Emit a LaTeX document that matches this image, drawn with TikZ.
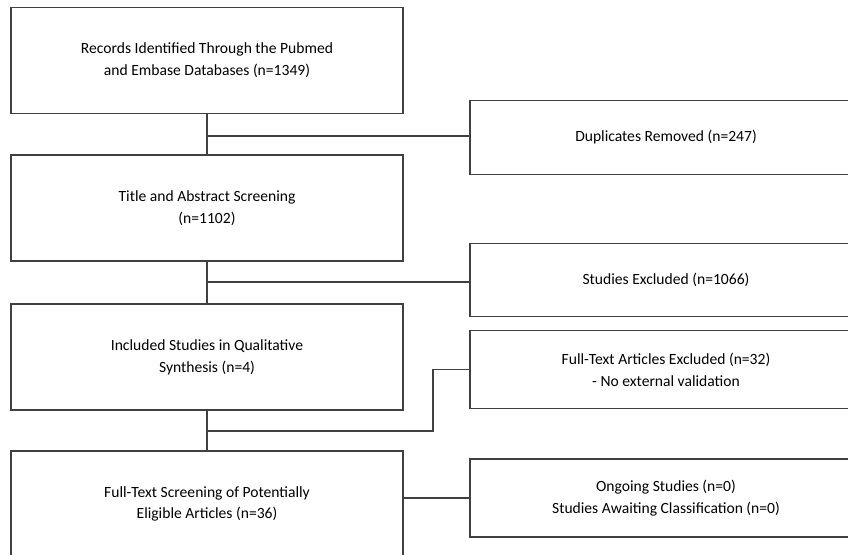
\documentclass[tikz,border=0pt]{standalone}
\usepackage{fontspec}
\setmainfont{Carlito}
\definecolor{linegray}{HTML}{404040}
\tikzset{
    stage/.style={draw=linegray, line width=0.8pt, rectangle, align=center,
        minimum width=294pt, font=\fontsize{11.7}{16.3}\selectfont},
    flow/.style={draw=linegray, line width=0.8pt}
}
\begin{document}
\begin{tikzpicture}[x=0.75pt,y=-0.75pt]
    \useasboundingbox (0,0) rectangle (848,555);

    \node[stage, minimum height=79pt] (0) at (207,60.5) {Records Identified Through the Pubmed\\and Embase Databases (n=1349)};
    \node[stage, minimum height=79.5pt] (1) at (207,208) {Title and Abstract Screening\\(n=1102)};
    \node[stage, minimum height=79.5pt] (2) at (207,357) {Included Studies in Qualitative\\Synthesis (n=4)};
    \node[stage, minimum height=79.5pt] (3) at (207,504) {Full-Text Screening of Potentially\\Eligible Articles (n=36)};

    \node[stage, minimum height=55pt] (r0) at (666,137.5) {Duplicates Removed (n=247)};
    \node[stage, minimum height=55pt] (r1) at (666,280) {Studies Excluded (n=1066)};
    \node[stage, minimum height=58.5pt] (r2) at (666,369.5) {Full-Text Articles Excluded (n=32)\\- No external validation};
    \node[stage, minimum height=58.5pt] (r3) at (666,498) {Ongoing Studies (n=0)\\Studies Awaiting Classification (n=0)};

    \coordinate (j0) at (207,136);
    \coordinate (j1) at (207,282);
    \coordinate (j2) at (207,431);

    \draw[flow] (0) -- (1);
    \draw[flow] (1) -- (2);
    \draw[flow] (2) -- (3);
    \draw[flow] (j0) -- (j0 -| r0.west);
    \draw[flow] (j1) -- (j1 -| r1.west);
    \draw[flow] (j2) -- ++(226,0) |- (r2.west);
    \draw[flow] (r3.west) -- (r3.west -| 3.east);

\end{tikzpicture}
\end{document}
